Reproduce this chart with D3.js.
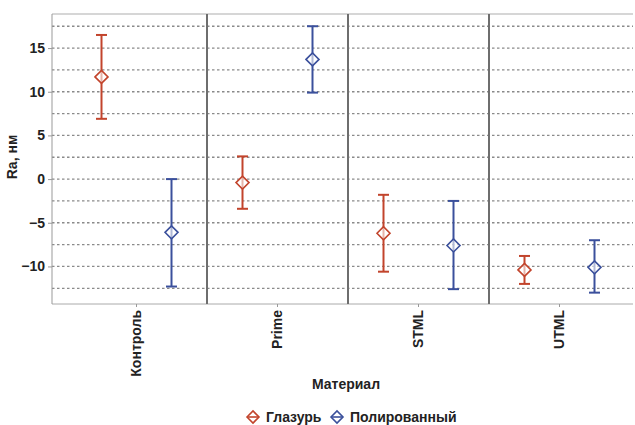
<!DOCTYPE html>
<html>
<head>
<meta charset="utf-8">
<script src="https://cdn.jsdelivr.net/npm/d3@7"></script>
<style>
  body { margin: 0; background: #fff; }
  text { font-family: "Liberation Sans", Arial, sans-serif; font-weight: bold; fill: #222; }
</style>
</head>
<body>
<div id="mount"></div>
<script>
// categories and series
var categories = ['Контроль', 'Prime', 'STML', 'UTML'];
var seriesNames = ['Глазурь', 'Полированный'];
var colors = ['#c2442c', '#3b509c'];

// mean, upper, lower per category
var glazeMean = [11.7, -0.4, -6.2, -10.4];
var glazeHigh = [16.5, 2.6, -1.8, -8.8];
var glazeLow = [6.9, -3.4, -10.6, -12.0];
var polMean = [-6.1, 13.7, -7.6, -10.1];
var polHigh = [0.0, 17.5, -2.5, -7.0];
var polLow = [-12.3, 9.9, -12.6, -13.0];

var yTicks = [-10, -5, 0, 5, 10, 15];
var gridValues = [-12.5, -10, -7.5, -5, -2.5, 0, 2.5, 5, 7.5, 10, 12.5, 15, 17.5];

var width = 635, height = 425;
var plot = { left: 52, right: 633, top: 14, bottom: 304 };

var svg = d3.select('#mount').append('svg')
    .attr('width', width)
    .attr('height', height);

var x = d3.scaleBand()
    .domain(categories)
    .range([66, 630]);

var sub = d3.scalePoint()
    .domain(seriesNames)
    .range([-35, 35]);

var y = d3.scaleLinear()
    .domain([-14.3, 18.9])
    .range([plot.bottom, plot.top]);

// gridlines
svg.append('g').selectAll('line')
    .data(gridValues)
  .enter().append('line')
    .attr('x1', plot.left)
    .attr('x2', plot.right)
    .attr('y1', d => y(d))
    .attr('y2', d => y(d))
    .attr('stroke', '#8a8a8a')
    .attr('stroke-width', 1.3)
    .attr('stroke-dasharray', '2.5,2.5');

// frame
svg.append('line')
    .attr('x1', plot.left).attr('x2', plot.right)
    .attr('y1', plot.top).attr('y2', plot.top)
    .attr('stroke', '#c8c8c8').attr('stroke-width', 1.5);
svg.append('line')
    .attr('x1', plot.left).attr('x2', plot.right)
    .attr('y1', plot.bottom).attr('y2', plot.bottom)
    .attr('stroke', '#aaa').attr('stroke-width', 1);
svg.append('line')
    .attr('x1', plot.left).attr('x2', plot.left)
    .attr('y1', plot.top).attr('y2', plot.bottom)
    .attr('stroke', '#999').attr('stroke-width', 1);

// panel dividers
svg.append('g').selectAll('line')
    .data(categories.slice(1))
  .enter().append('line')
    .attr('x1', d => x(d))
    .attr('x2', d => x(d))
    .attr('y1', plot.top)
    .attr('y2', plot.bottom)
    .attr('stroke', '#6e6e6e')
    .attr('stroke-width', 2);

// y axis
var yAxis = d3.axisLeft(y).tickValues(yTicks).tickSize(4).tickPadding(3);
var yg = svg.append('g')
    .attr('transform', `translate(${plot.left},0)`)
    .call(yAxis);
yg.select('.domain').remove();
yg.selectAll('line').attr('stroke', '#999');
yg.selectAll('text').style('font-size', '14px').attr('fill', '#222');

// x axis
var xAxis = d3.axisBottom(x).tickSize(3).tickPadding(4);
var xg = svg.append('g')
    .attr('transform', `translate(0,${plot.bottom})`)
    .call(xAxis);
xg.select('.domain').remove();
xg.selectAll('line').attr('stroke', '#999');
xg.selectAll('text')
    .style('font-size', '14px')
    .attr('fill', '#222')
    .attr('transform', 'rotate(-90)')
    .attr('text-anchor', 'end')
    .attr('dy', '0.35em')
    .attr('x', -6)
    .attr('y', 0);

// axis titles
svg.append('text')
    .attr('transform', 'translate(17,157) rotate(-90)')
    .attr('text-anchor', 'middle')
    .style('font-size', '14px')
    .text('Ra, нм');

svg.append('text')
    .attr('x', 346)
    .attr('y', 389)
    .attr('text-anchor', 'middle')
    .style('font-size', '14px')
    .text('Материал');

// error bar data
var rows = [];
categories.forEach((c, i) => {
  rows.push({ cat: c, s: seriesNames[0], mean: glazeMean[i], hi: glazeHigh[i], lo: glazeLow[i], color: colors[0] });
  rows.push({ cat: c, s: seriesNames[1], mean: polMean[i], hi: polHigh[i], lo: polLow[i], color: colors[1] });
});

var cx = d => x(d.cat) + x.bandwidth() / 2 + sub(d.s);
var capW = 5.5, dW = 6.5, dH = 6.5;

var bars = svg.append('g').selectAll('.bar')
    .data(rows)
  .enter().append('g')
    .attr('class', 'bar');

bars.append('line')
    .attr('x1', cx).attr('x2', cx)
    .attr('y1', d => y(d.hi)).attr('y2', d => y(d.lo))
    .attr('stroke', d => d.color).attr('stroke-width', 2);
bars.append('line')
    .attr('x1', d => cx(d) - capW).attr('x2', d => cx(d) + capW)
    .attr('y1', d => y(d.hi)).attr('y2', d => y(d.hi))
    .attr('stroke', d => d.color).attr('stroke-width', 2);
bars.append('line')
    .attr('x1', d => cx(d) - capW).attr('x2', d => cx(d) + capW)
    .attr('y1', d => y(d.lo)).attr('y2', d => y(d.lo))
    .attr('stroke', d => d.color).attr('stroke-width', 2);
bars.append('path')
    .attr('d', d => {
      var px = cx(d), py = y(d.mean);
      return `M${px - dW},${py}L${px},${py - dH}L${px + dW},${py}L${px},${py + dH}Z`;
    })
    .attr('fill', '#fff')
    .attr('fill-opacity', 0.6)
    .attr('stroke', d => d.color)
    .attr('stroke-width', 1.6);

// legend
var legend = svg.append('g').attr('transform', 'translate(0,417)');
var legendX = [253, 337];
seriesNames.forEach((name, i) => {
  var g = legend.append('g').attr('transform', `translate(${legendX[i]},0)`);
  g.append('path')
    .attr('d', 'M-6,0L0,-6L6,0L0,6Z')
    .attr('fill', 'none')
    .attr('stroke', colors[i])
    .attr('stroke-width', 1.6);
  g.append('line')
    .attr('x1', -6).attr('x2', 6)
    .attr('stroke', colors[i]).attr('stroke-width', 1.6);
  g.append('text')
    .attr('x', 13)
    .attr('dy', '0.36em')
    .style('font-size', '14px')
    .text(name);
});
</script>
</body>
</html>
